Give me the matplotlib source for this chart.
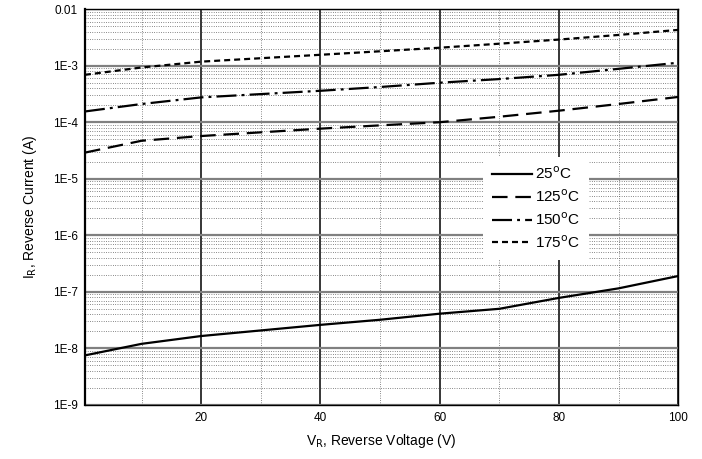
import matplotlib
matplotlib.use("Agg")
import matplotlib.pyplot as plt
from matplotlib.ticker import FixedLocator, LogLocator, NullFormatter

plt.rcParams["font.family"] = ["Liberation Sans", "DejaVu Sans"]

# values (V_R in volts, I_R in amps)
v_r = [0.5, 10, 20, 40, 50, 60, 70, 80, 90, 100]
i_25 = [7.5e-9, 1.2e-8, 1.65e-8, 2.6e-8, 3.2e-8, 4.1e-8, 5.0e-8, 7.8e-8, 1.15e-7, 1.9e-7]
i_125 = [2.9e-5, 4.7e-5, 5.7e-5, 7.7e-5, 8.8e-5, 1.0e-4, 1.25e-4, 1.6e-4, 2.1e-4, 2.8e-4]
i_150 = [1.55e-4, 2.1e-4, 2.75e-4, 3.6e-4, 4.2e-4, 5.0e-4, 5.8e-4, 6.9e-4, 8.8e-4, 1.13e-3]
i_175 = [6.9e-4, 9.3e-4, 1.18e-3, 1.56e-3, 1.8e-3, 2.08e-3, 2.45e-3, 2.9e-3, 3.5e-3, 4.3e-3]

labels = ["25$^{\\mathrm{o}}$C", "125$^{\\mathrm{o}}$C", "150$^{\\mathrm{o}}$C", "175$^{\\mathrm{o}}$C"]
series = [i_25, i_125, i_150, i_175]
styles = ["-", (0, (7, 3.5)), (0, (9, 2.3, 1.3, 2.3)), (0, (2.7, 1.8))]

x_ticks = [20, 40, 60, 80, 100]
y_ticks = [1e-9, 1e-8, 1e-7, 1e-6, 1e-5, 1e-4, 1e-3, 1e-2]
y_ticklabels = ["1E-9", "1E-8", "1E-7", "1E-6", "1E-5", "1E-4", "1E-3", "0.01"]

fig = plt.figure(figsize=(7.02, 4.59), dpi=100)
ax = fig.add_axes([0.121, 0.118, 0.845, 0.862])

for ys, lab, ls in zip(series, labels, styles):
    ax.plot(v_r, ys, color="black", lw=1.6, linestyle=ls, label=lab, zorder=3)

ax.set_yscale("log")
ax.set_xlim(0.5, 100)
ax.set_ylim(1e-9, 1e-2)

ax.set_xticks(x_ticks)
ax.xaxis.set_minor_locator(FixedLocator([10, 30, 50, 70, 90]))
ax.set_yticks(y_ticks)
ax.set_yticklabels(y_ticklabels)
ax.yaxis.set_minor_locator(LogLocator(base=10, subs=range(2, 10), numticks=20))
ax.yaxis.set_minor_formatter(NullFormatter())

ax.grid(True, which="major", axis="x", color="black", lw=1.1)
ax.grid(True, which="major", axis="y", color="#808080", lw=1.6)
ax.grid(True, which="minor", axis="both", color="#444444", lw=0.55, linestyle=(0, (1, 2)))
ax.tick_params(which="both", length=0, labelsize=8.5, pad=5)
ax.set_axisbelow(True)

for s in ax.spines.values():
    s.set_linewidth(1.0)
ax.spines["left"].set_linewidth(1.6)

ax.set_xlabel("V$_{\\mathrm{R}}$, Reverse Voltage (V)", fontsize=10, labelpad=6)
ax.set_ylabel("I$_{\\mathrm{R}}$, Reverse Current (A)", fontsize=10, labelpad=10)

leg = ax.legend(loc="center", bbox_to_anchor=(0.76, 0.497), frameon=True,
                fancybox=False, edgecolor="none", facecolor="white", framealpha=1,
                fontsize=11, handlelength=2.6, handletextpad=0.2, labelspacing=0.4,
                borderpad=0.6)
leg.set_zorder(5)

fig.savefig("out.png", dpi=100)
